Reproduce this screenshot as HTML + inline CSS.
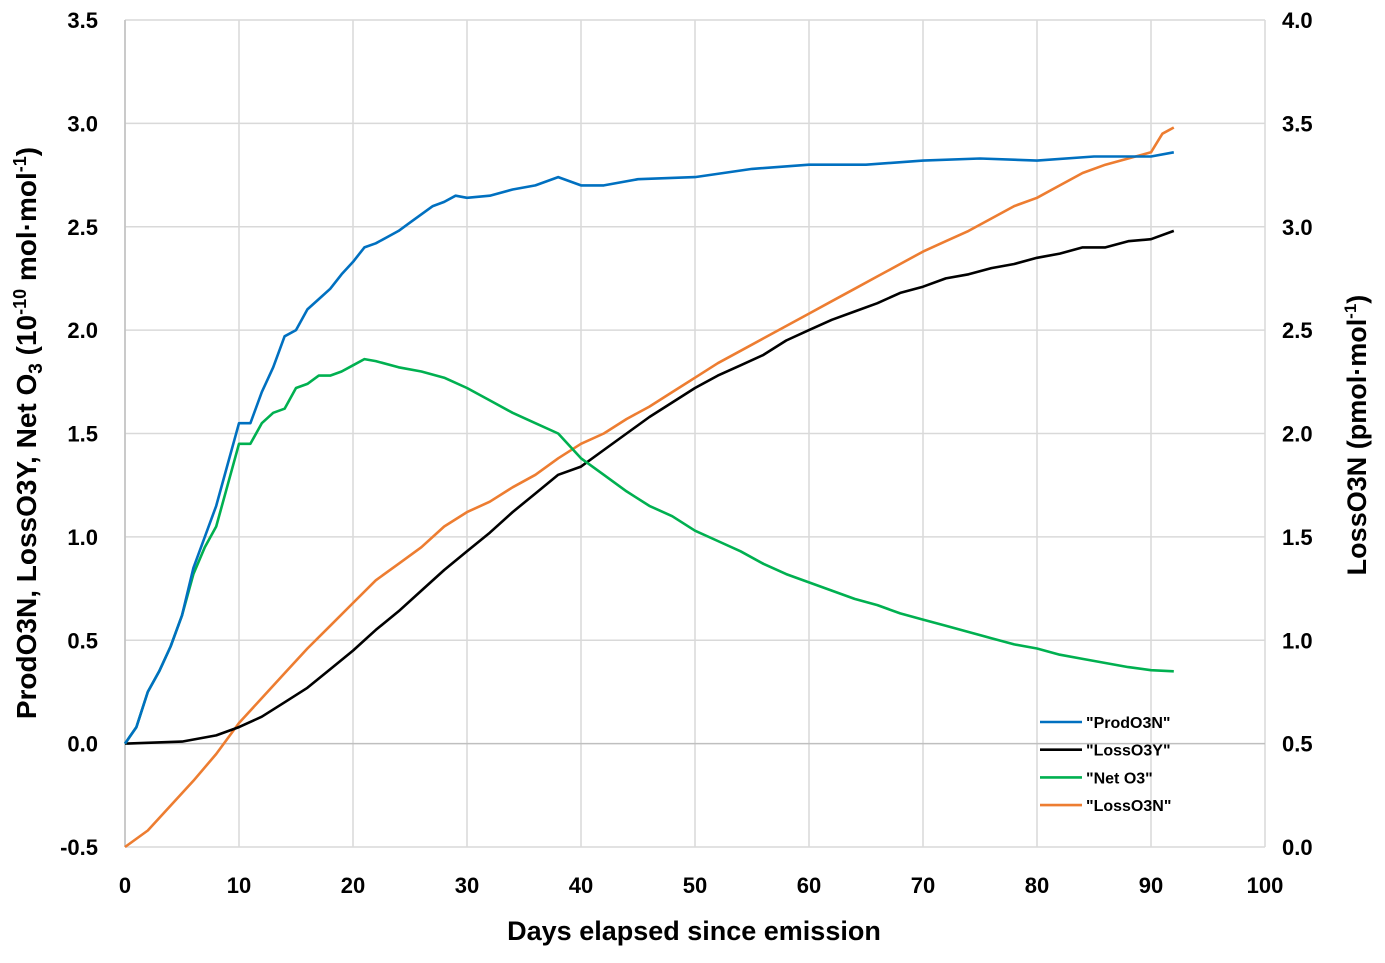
<!DOCTYPE html>
<html><head><meta charset="utf-8"><style>
body{margin:0;background:#fff;}
svg text{font-family:"Liberation Sans",sans-serif;font-weight:bold;fill:#000;}
</style></head><body>
<svg id="chart" width="1385" height="958" xmlns="http://www.w3.org/2000/svg">
<g id="grid"></g>
<g id="axes"></g>
<g id="series"></g>
<text x="694" y="940" font-size="27" text-anchor="middle">Days elapsed since emission</text>
<text transform="translate(36,433) rotate(-90)" font-size="28" text-anchor="middle">ProdO3N, LossO3Y, Net O<tspan font-size="19" dy="6">3</tspan><tspan dy="-6"> (10</tspan><tspan font-size="18" dy="-10">-10</tspan><tspan dy="10"> mol·mol</tspan><tspan font-size="18" dy="-10">-1</tspan><tspan dy="10">)</tspan></text>
<text transform="translate(1366,435) rotate(-90)" font-size="27" text-anchor="middle">LossO3N (pmol·mol<tspan font-size="17" dy="-10">-1</tspan><tspan dy="10">)</tspan></text>
<g id="legend"></g>
</svg>
<script>
const prodDays=[0,1,2,3,4,5,6,7,8,9,10,11,12,13,14,15,16,17,18,19,20,21,22,23,24,25,26,27,28,29,30,32,34,36,38,40,42,45,50,55,60,65,70,75,80,85,90,92];
const prodVals=[0,0.08,0.25,0.35,0.47,0.62,0.85,1.0,1.15,1.35,1.55,1.55,1.7,1.82,1.97,2.0,2.1,2.15,2.2,2.27,2.33,2.4,2.42,2.45,2.48,2.52,2.56,2.6,2.62,2.65,2.64,2.65,2.68,2.7,2.74,2.7,2.7,2.73,2.74,2.78,2.8,2.8,2.82,2.83,2.82,2.84,2.84,2.86];
const netDays=[0,1,2,3,4,5,6,7,8,9,10,11,12,13,14,15,16,17,18,19,20,21,22,24,26,28,30,32,34,36,38,40,42,44,46,48,50,52,54,56,58,60,62,64,66,68,70,72,74,76,78,80,82,84,86,88,90,92];
const netVals=[0,0.08,0.25,0.35,0.47,0.62,0.82,0.95,1.05,1.25,1.45,1.45,1.55,1.6,1.62,1.72,1.74,1.78,1.78,1.8,1.83,1.86,1.85,1.82,1.8,1.77,1.72,1.66,1.6,1.55,1.5,1.38,1.3,1.22,1.15,1.1,1.03,0.98,0.93,0.87,0.82,0.78,0.74,0.7,0.67,0.63,0.6,0.57,0.54,0.51,0.48,0.46,0.43,0.41,0.39,0.37,0.355,0.35];
const lossYDays=[0,5,8,10,12,14,16,18,20,22,24,26,28,30,32,34,36,38,40,42,44,46,48,50,52,54,56,58,60,62,64,66,68,70,72,74,76,78,80,82,84,86,88,90,92];
const lossYVals=[0,0.01,0.04,0.08,0.13,0.2,0.27,0.36,0.45,0.55,0.64,0.74,0.84,0.93,1.02,1.12,1.21,1.3,1.34,1.42,1.5,1.58,1.65,1.72,1.78,1.83,1.88,1.95,2.0,2.05,2.09,2.13,2.18,2.21,2.25,2.27,2.3,2.32,2.35,2.37,2.4,2.4,2.43,2.44,2.48];
const lossNDays=[0,2,4,6,8,10,12,14,16,18,20,22,24,26,28,30,32,34,36,38,40,42,44,46,48,50,52,54,56,58,60,62,64,66,68,70,72,74,76,78,80,82,84,86,88,90,91,92];
const lossNVals=[0,0.08,0.2,0.32,0.45,0.6,0.72,0.84,0.96,1.07,1.18,1.29,1.37,1.45,1.55,1.62,1.67,1.74,1.8,1.88,1.95,2.0,2.07,2.13,2.2,2.27,2.34,2.4,2.46,2.52,2.58,2.64,2.7,2.76,2.82,2.88,2.93,2.98,3.04,3.1,3.14,3.2,3.26,3.3,3.33,3.36,3.45,3.48];
const xTicks=[0,10,20,30,40,50,60,70,80,90,100];
const leftTicks=[-0.5,0,0.5,1,1.5,2,2.5,3,3.5];
const rightTicks=[0,0.5,1,1.5,2,2.5,3,3.5,4];
const legendLabels=['"ProdO3N"','"LossO3Y"','"Net O3"','"LossO3N"'];
const legendColors=['#0070c0','#000000','#00b050','#ed7d31'];
const X0=125,X1=1265,YT=20,YB=847;
const xs=d=>X0+(d/100)*(X1-X0);
const yl=v=>YB-(v+0.5)/4*(YB-YT);
const yr=v=>YB-v/4*(YB-YT);
const NS='http://www.w3.org/2000/svg';
function mk(tag,parent,attrs){const e=document.createElementNS(NS,tag);for(const k in attrs)e.setAttribute(k,attrs[k]);parent.appendChild(e);return e;}
const grid=document.getElementById('grid'),axes=document.getElementById('axes'),ser=document.getElementById('series'),leg=document.getElementById('legend');
xTicks.forEach(t=>{const l=mk('line',grid,{x1:xs(t),x2:xs(t),y1:YT,y2:YB,stroke:'#d9d9d9','stroke-width':1.5});


const tx=mk('text',axes,{x:xs(t),y:YB+46,'font-size':22,'text-anchor':'middle'});tx.textContent=t;

});
leftTicks.forEach(t=>{const l=mk('line',grid,{x1:X0,x2:X1,y1:yl(t),y2:yl(t),stroke:t===0?'#bfbfbf':'#d9d9d9','stroke-width':1.5});


const tx=mk('text',axes,{x:98,y:yl(t)+8,'font-size':22,'text-anchor':'end'});tx.textContent=t.toFixed(1);

});
rightTicks.forEach(t=>{const tx=mk('text',axes,{x:1282,y:yr(t)+8,'font-size':22,'text-anchor':'start'});tx.textContent=t.toFixed(1);

});
const lax=mk('line',axes,{x1:X0,x2:X0,y1:YT,y2:YB,stroke:'#bfbfbf','stroke-width':1.5});


function line(days,vals,fy,color,name){const pts=days.map((d,i)=>xs(d).toFixed(1)+','+fy(vals[i]).toFixed(1)).join(' ');
const p=mk('polyline',ser,{points:pts,fill:'none',stroke:color,'stroke-width':2.6,'stroke-linejoin':'round'});

}
line(lossNDays,lossNVals,yr,'#ed7d31','lossO3N-line');
line(lossYDays,lossYVals,yl,'#000000','lossO3Y-line');
line(netDays,netVals,yl,'#00b050','netO3-line');
line(prodDays,prodVals,yl,'#0070c0','prodO3N-line');
legendLabels.forEach((lab,i)=>{const y=722+i*27.7;
const l=mk('line',leg,{x1:1040,x2:1082,y1:y,y2:y,stroke:legendColors[i],'stroke-width':2.6});


const t=mk('text',leg,{x:1086,y:y+6,'font-size':16});t.textContent=lab;

});
</script>
</body></html>
